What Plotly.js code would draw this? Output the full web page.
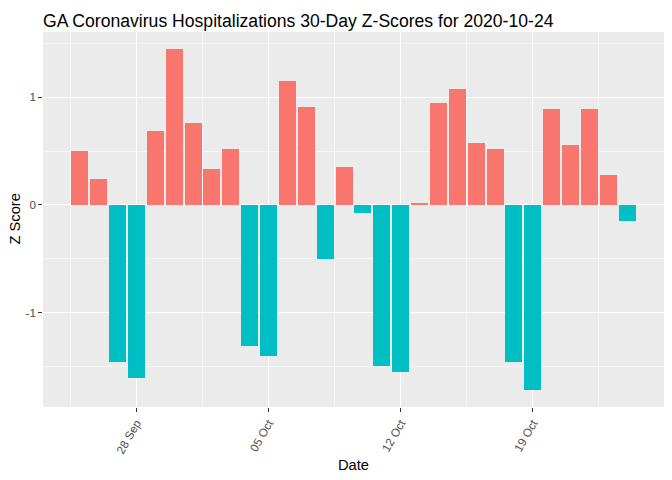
<!DOCTYPE html>
<html>
<head>
<meta charset="utf-8">
<script src="https://cdn.plot.ly/plotly-3.0.1.min.js"></script>
<style>html,body{margin:0;padding:0;background:#fff;}#chart{width:672px;height:480px;}</style>
</head>
<body>
<div id="chart"></div>
<script>
var dates = ['2020-09-25','2020-09-26','2020-09-27','2020-09-28','2020-09-29','2020-09-30',
  '2020-10-01','2020-10-02','2020-10-03','2020-10-04','2020-10-05','2020-10-06','2020-10-07',
  '2020-10-08','2020-10-09','2020-10-10','2020-10-11','2020-10-12','2020-10-13','2020-10-14',
  '2020-10-15','2020-10-16','2020-10-17','2020-10-18','2020-10-19','2020-10-20','2020-10-21',
  '2020-10-22','2020-10-23','2020-10-24'];
var zScores = [0.50, 0.24, -1.457, -1.605, 0.687, 1.448, 0.761, 0.334, 0.52, -1.308, -1.401,
  1.151, 0.909, -0.501, 0.353, -0.074, -1.494, -1.55, 0.019, 0.946, 1.076, 0.575, 0.52,
  -1.457, -1.717, 0.89, 0.557, 0.89, 0.278, -0.148];
var xTickVals = ['2020-09-28','2020-10-05','2020-10-12','2020-10-19'];
var xTickText = ['28 Sep','05 Oct','12 Oct','19 Oct'];
var yTickVals = [-1, 0, 1];
var yTickText = ['-1', '0', '1'];

var posColor = '#F8766D', negColor = '#00BFC4';
var colors = zScores.map(function(v){ return v >= 0 ? posColor : negColor; });
var DAY = 86400000;

var trace = {
  type: 'bar',
  x: dates,
  y: zScores,
  width: 0.9 * DAY,
  marker: {color: colors, line: {width: 0}},
  hoverinfo: 'x+y'
};

var layout = {
  width: 672, height: 480,
  margin: {l: 43, r: 8, t: 32, b: 73},
  paper_bgcolor: '#FFFFFF',
  plot_bgcolor: '#EBEBEB',
  font: {family: 'Liberation Sans, Arial, sans-serif', color: '#4D4D4D'},
  showlegend: false,
  bargap: 0,
  title: {
    text: 'GA Coronavirus Hospitalizations 30-Day Z-Scores for 2020-10-24',
    font: {size: 17.6, color: '#000000'},
    x: 0, xref: 'paper', xanchor: 'left',
    y: 1 - 21/480, yref: 'container', yanchor: 'middle'
  },
  xaxis: {
    type: 'date',
    range: ['2020-09-23 01:19', '2020-10-25 22:41'],
    tickmode: 'array',
    tickvals: xTickVals,
    ticktext: xTickText,
    tickangle: -60,
    tickfont: {size: 11.7, color: '#4D4D4D'},
    ticks: 'outside', ticklen: 3.7, tickwidth: 1.07, tickcolor: '#333333',
    showgrid: true, gridcolor: '#FFFFFF', gridwidth: 1.07,
    minor: {tickmode: 'linear', tick0: '2020-09-24 12:00', dtick: 7 * DAY, showgrid: true, gridcolor: '#FFFFFF', gridwidth: 0.53, ticks: ''},
    zeroline: false, showline: false,
    title: {text: 'Date', font: {size: 14.7, color: '#000000'}, standoff: 4},
    fixedrange: true
  },
  yaxis: {
    range: [-1.876, 1.606],
    tickmode: 'array',
    tickvals: yTickVals,
    ticktext: yTickText,
    tickfont: {size: 11.7, color: '#4D4D4D'},
    ticks: 'outside', ticklen: 3.7, tickwidth: 1.07, tickcolor: '#333333',
    showgrid: true, gridcolor: '#FFFFFF', gridwidth: 1.07,
    minor: {tickmode: 'array', tickvals: [-1.5, -0.5, 0.5, 1.5], showgrid: true, gridcolor: '#FFFFFF', gridwidth: 0.53, ticks: ''},
    zeroline: false, showline: false,
    fixedrange: true
  },
  annotations: [{
    text: 'Z Score', textangle: -90, showarrow: false,
    xref: 'paper', yref: 'paper', x: -(43 - 14) / 621, y: 0.5,
    xanchor: 'center', yanchor: 'middle',
    font: {size: 14.7, color: '#000000'}
  }]
};

Plotly.newPlot('chart', [trace], layout, {displayModeBar: false, staticPlot: true});
</script>
</body>
</html>
